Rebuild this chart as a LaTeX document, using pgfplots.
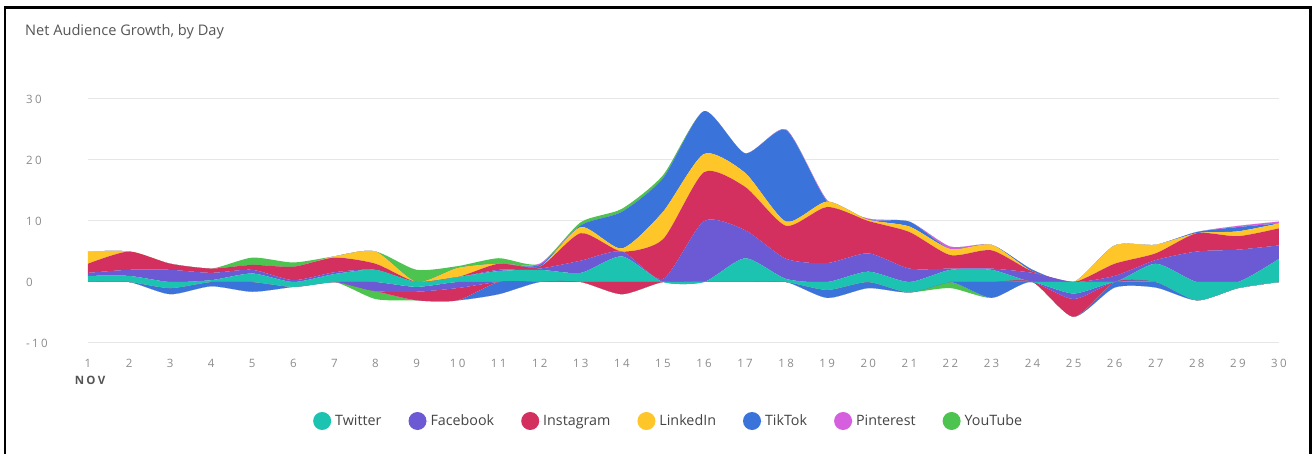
\documentclass[border=0pt]{standalone}
\usepackage{fontspec}
\setmainfont{Open Sans}
\newfontfamily\tickfont[LetterSpace=20]{Open Sans}
\usepackage{pgfplots}
\usepackage{pgfplotstable}
\pgfplotsset{compat=1.18}

\definecolor{cTw}{HTML}{1CC3B0}
\definecolor{cFb}{HTML}{6C59D4}
\definecolor{cIg}{HTML}{D3305F}
\definecolor{cLi}{HTML}{FFC629}
\definecolor{cTt}{HTML}{3A73DA}
\definecolor{cPi}{HTML}{D65FDF}
\definecolor{cYt}{HTML}{4DC44F}
\definecolor{gridc}{HTML}{E6E6E6}
\definecolor{ticktext}{HTML}{8C8C8C}
\definecolor{titletext}{HTML}{555555}
\definecolor{legendtext}{HTML}{444444}

% Net audience change per network and day (November)
\pgfplotstableread{
day   tw    fb    ig    li    tt    pi    yt
1     1     0.5   1.5   2     0     0     0
2     1     1     3     0     0     0     0
3    -1     2     1     0    -1     0     0
4     0.3   1.2   0.7   0    -0.7   0     0
5     1.4   0.6   0.8   0    -1.6   0     1.2
6    -0.8   0.3   2.2   0     0     0     0.7
7     1.3   0.3   2.4   0.2   0     0     0
8     2    -1.5   1     2     0     0    -1.3
9    -0.8  -0.8  -1.4   0     0     0     2
10    0.8  -1    -2     1.5   0     0     0.3
11    1.8   0.2   1     0    -2     0     0.9
12    2     0.2   0.3   0     0.3   0.2   0
13    1.5   2     4.5   1     0.3   0     0.5
14    4.2   0.8  -2     0.5   6     0     0.5
15    0     0.5   6.5   4.5   5.5   0     0.5
16    0     10    8     3     7     0     0
17    3.9   4.6   7.1   2.3   3.2   0     0
18    0.5   3.3   5.4   0.7   15    0.1   0
19   -1.3   3.1   9.2   0.9  -1.3   0.2   0
20    1.7   3     5.3   0.2  -1     0.2   0
21   -1.7   2.2   6     0.9   0.8   0     0
22    2     0.2   2.2   1     0     0.4  -1
23    2     0.2   3     0.9  -2.6   0     0
24    0     1.5   0.2   0     0.3   0     0
25   -1.9  -0.9  -2.9   0     0     0     0
26    0     1     2     3    -0.9   0     0
27    3     0.6   1.1   1.4  -0.9   0     0
28   -3     5     3     0     0.2   0     0
29   -1     5.3   2.2   0.8   0.7   0.2   0
30    3.8   2.2   2.8   0.8   0     0.3   0
}\growth

\pgfplotsset{
  netaxis/.style={
    at={(88pt,111pt)}, anchor=south west,
    scale only axis, width=1191pt, height=244pt,
    xmin=1, xmax=30, ymin=-10, ymax=30,
    stack plots=y,
  },
  layer/.style={draw=none, fill=#1, smooth, tension=0.4},
}

\begin{document}
\begin{tikzpicture}
\useasboundingbox (0,0) rectangle (1314pt,454pt);
\fill[white] (0,0) rectangle (1314pt,454pt);
% card frame
\draw[black, line width=2.2pt] (5pt,0) -- (5pt,446.5pt) -- (1310.5pt,446.5pt) -- (1310.5pt,0);

\node[anchor=west, inner sep=0, text=titletext, font=\fontsize{14.6}{16}\selectfont]
  at (25pt,422pt) {Net Audience Growth, by Day};

% gains: stacked upwards from zero
\begin{axis}[netaxis,
  axis line style={draw=none},
  major tick length=0pt,
  ymajorgrids, grid style={gridc, line width=1pt},
  ytick={-10,0,10,20,30},
  xtick={1,...,30},
  /pgf/number format/assume math mode=true,
  ticklabel style={font=\tickfont\fontsize{11.5}{13}\selectfont, text=ticktext, inner sep=0pt},
  yticklabel style={anchor=west, xshift=-62pt},
  xticklabel style={anchor=center, yshift=-20pt},
  legend columns=-1,
  legend image code/.code={\fill[#1] (0pt,0pt) circle (9pt); \path (0pt,0pt) -- (11pt,0pt);},
  legend style={at={(axis description cs:0.1889,-0.3197)}, anchor=west,
    draw=none, fill=none, inner sep=0pt,
    font=\fontsize{14.3}{16}\selectfont, text=legendtext,
    /tikz/every even column/.append style={column sep=25pt}},
]
\addplot[layer=cTw] table[x=day, y expr={max(\thisrow{tw},0)}] {\growth} \closedcycle;
\addlegendentry{Twitter}
\addplot[layer=cFb] table[x=day, y expr={max(\thisrow{fb},0)}] {\growth} \closedcycle;
\addlegendentry{Facebook}
\addplot[layer=cIg] table[x=day, y expr={max(\thisrow{ig},0)}] {\growth} \closedcycle;
\addlegendentry{Instagram}
\addplot[layer=cLi] table[x=day, y expr={max(\thisrow{li},0)}] {\growth} \closedcycle;
\addlegendentry{LinkedIn}
\addplot[layer=cTt] table[x=day, y expr={max(\thisrow{tt},0)}] {\growth} \closedcycle;
\addlegendentry{TikTok}
\addplot[layer=cPi] table[x=day, y expr={max(\thisrow{pi},0)}] {\growth} \closedcycle;
\addlegendentry{Pinterest}
\addplot[layer=cYt] table[x=day, y expr={max(\thisrow{yt},0)}] {\growth} \closedcycle;
\addlegendentry{YouTube}
\end{axis}

% losses: stacked downwards from zero
\begin{axis}[netaxis, hide axis]
\addplot[layer=cTw] table[x=day, y expr={min(\thisrow{tw},0)}] {\growth} \closedcycle;
\addplot[layer=cFb] table[x=day, y expr={min(\thisrow{fb},0)}] {\growth} \closedcycle;
\addplot[layer=cIg] table[x=day, y expr={min(\thisrow{ig},0)}] {\growth} \closedcycle;
\addplot[layer=cLi] table[x=day, y expr={min(\thisrow{li},0)}] {\growth} \closedcycle;
\addplot[layer=cTt] table[x=day, y expr={min(\thisrow{tt},0)}] {\growth} \closedcycle;
\addplot[layer=cPi] table[x=day, y expr={min(\thisrow{pi},0)}] {\growth} \closedcycle;
\addplot[layer=cYt] table[x=day, y expr={min(\thisrow{yt},0)}] {\growth} \closedcycle;
\end{axis}

\node[text=titletext, font=\tickfont\bfseries\fontsize{11.5}{13}\selectfont, inner sep=0]
  at (90pt,74pt) {NOV};
\end{tikzpicture}
\end{document}
